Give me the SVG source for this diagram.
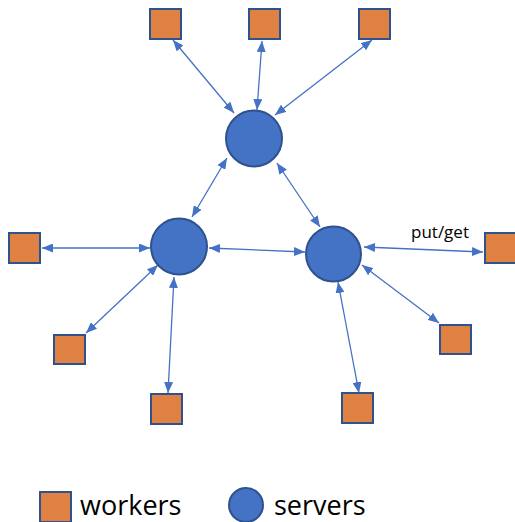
<svg xmlns="http://www.w3.org/2000/svg" width="515" height="522" viewBox="0 0 515 522">
<style>
.w{fill:#E08144;stroke:#2F528F;stroke-width:2}
.s{fill:#4472C4;stroke:#2F528F;stroke-width:2}
.c{stroke:#4472C4;stroke-width:1.3;fill:none;marker-start:url(#ah);marker-end:url(#ah)}
text{font-family:"Open Sans","Liberation Sans",sans-serif;fill:#000}
</style>
<defs>
<marker id="ah" markerUnits="userSpaceOnUse" markerWidth="11" markerHeight="9" refX="11" refY="4.5" orient="auto-start-reverse">
<path d="M0,0 L11,4.5 L0,9 z" fill="#4472C4"/>
</marker>
</defs>
<rect width="515" height="522" fill="#fff"/>
<g id="connectors">
<line class="c" x1="173" y1="40" x2="234" y2="113"/>
<line class="c" x1="262" y1="41" x2="257" y2="110"/>
<line class="c" x1="372" y1="40" x2="275" y2="115"/>
<line class="c" x1="42" y1="248" x2="150" y2="248"/>
<line class="c" x1="86" y1="333" x2="158" y2="265"/>
<line class="c" x1="174" y1="277" x2="168" y2="393"/>
<line class="c" x1="209" y1="248" x2="305" y2="252"/>
<line class="c" x1="227" y1="158" x2="192" y2="217"/>
<line class="c" x1="277" y1="163" x2="320" y2="227"/>
<line class="c" x1="364" y1="247" x2="483" y2="252"/>
<line class="c" x1="362" y1="265" x2="439" y2="323"/>
<line class="c" x1="338" y1="282" x2="359" y2="393"/>
</g>
<g id="server-top"><circle class="s" cx="254" cy="138.5" r="28"/></g>
<g id="server-left"><circle class="s" cx="179" cy="246.5" r="28"/></g>
<g id="server-right"><circle class="s" cx="333.5" cy="254" r="27.5"/></g>
<g id="worker-top1"><rect class="w" x="150" y="9" width="31" height="30"/></g>
<g id="worker-top2"><rect class="w" x="249" y="9" width="31" height="30"/></g>
<g id="worker-top3"><rect class="w" x="359" y="9" width="31" height="30"/></g>
<g id="worker-left"><rect class="w" x="9" y="233" width="31" height="30"/></g>
<g id="worker-lowleft"><rect class="w" x="54" y="335" width="31" height="29"/></g>
<g id="worker-bottom-left"><rect class="w" x="151" y="394" width="31" height="30"/></g>
<g id="worker-bottom-right"><rect class="w" x="342" y="393" width="31" height="30"/></g>
<g id="worker-lowright"><rect class="w" x="440" y="325" width="31" height="29"/></g>
<g id="worker-right"><rect class="w" x="485" y="233" width="31" height="30"/></g>
<g id="label"><text x="411" y="238" font-size="17">put/get</text></g>
<g id="legend">
<rect class="w" x="40" y="492" width="31" height="30"/>
<text x="80" y="515" font-size="27">workers</text>
<circle class="s" cx="246" cy="505" r="17"/>
<text x="274" y="515" font-size="27">servers</text>
</g>
</svg>
